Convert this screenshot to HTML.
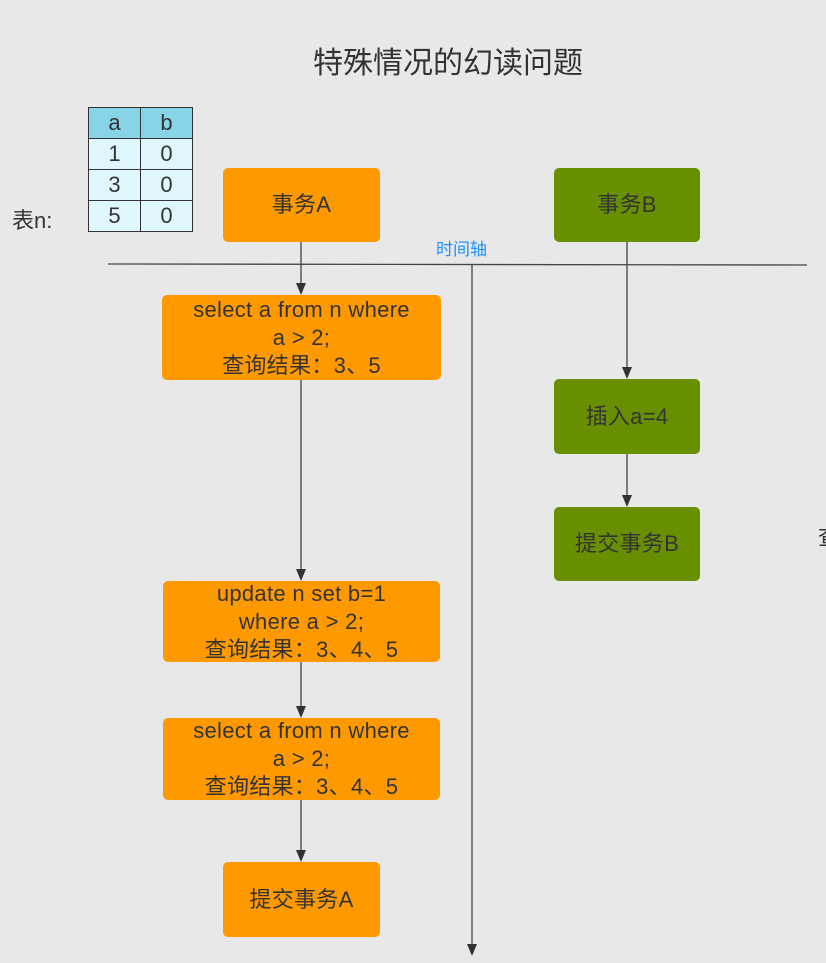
<!DOCTYPE html>
<html><head><meta charset="utf-8"><style>
body{margin:0;width:826px;height:963px;background:#e8e8e8;position:relative;overflow:hidden;font-family:"Liberation Sans","Noto Sans CJK SC",sans-serif;color:#333}
.b{position:absolute;border-radius:5px;display:flex;align-items:center;justify-content:center;text-align:center;font-size:22px;line-height:28px;letter-spacing:0.3px}
.o{background:#ff9900}.g{background:#688f00}
table{position:absolute;left:88px;top:107px;border-collapse:collapse}
td{border:1px solid #333;width:51px;height:30px;padding:0;text-align:center;font-size:22px;background:#dff6fc}
tr:first-child td{background:#86d4e6}
</style></head><body>
<div style="position:absolute;left:0;width:896px;top:38px;text-align:center;font-size:30px">特殊情况的幻读问题</div>
<table><tr><td>a</td><td>b</td></tr><tr><td>1</td><td>0</td></tr><tr><td>3</td><td>0</td></tr><tr><td>5</td><td>0</td></tr></table>
<div style="position:absolute;left:12px;top:203px;font-size:22px">表n:</div>
<div style="position:absolute;left:436px;top:235px;font-size:17px;color:#1e90ff">时间轴</div>
<div style="position:absolute;left:818px;top:520px;font-size:22px">查</div>
<svg width="826" height="963" style="position:absolute;left:0;top:0">
<g stroke="#444" stroke-width="1.3" fill="#333">
<line x1="108" y1="264" x2="807" y2="265"/>
<line x1="472" y1="265" x2="472" y2="944"/><path d="M467,944 L477,944 L472,956z" stroke="none"/>
<line x1="301" y1="242" x2="301" y2="284"/><path d="M296,283 L306,283 L301,295z" stroke="none"/>
<line x1="301" y1="380" x2="301" y2="570"/><path d="M296,569 L306,569 L301,581z" stroke="none"/>
<line x1="301" y1="662" x2="301" y2="707"/><path d="M296,706 L306,706 L301,718z" stroke="none"/>
<line x1="301" y1="800" x2="301" y2="851"/><path d="M296,850 L306,850 L301,862z" stroke="none"/>
<line x1="627" y1="242" x2="627" y2="368"/><path d="M622,367 L632,367 L627,379z" stroke="none"/>
<line x1="627" y1="454" x2="627" y2="496"/><path d="M622,495 L632,495 L627,507z" stroke="none"/>
</g></svg>
<div class="b o" style="left:223px;top:168px;width:157px;height:74px">事务A</div>
<div class="b g" style="left:554px;top:168px;width:146px;height:74px">事务B</div>
<div class="b o" style="left:162px;top:295px;width:279px;height:85px">select a from n where<br>a &gt; 2;<br>查询结果：3、5</div>
<div class="b o" style="left:163px;top:581px;width:277px;height:81px">update n set b=1<br>where a &gt; 2;<br>查询结果：3、4、5</div>
<div class="b o" style="left:163px;top:718px;width:277px;height:82px">select a from n where<br>a &gt; 2;<br>查询结果：3、4、5</div>
<div class="b o" style="left:223px;top:862px;width:157px;height:75px">提交事务A</div>
<div class="b g" style="left:554px;top:379px;width:146px;height:75px">插入a=4</div>
<div class="b g" style="left:554px;top:507px;width:146px;height:74px">提交事务B</div>
</body></html>
